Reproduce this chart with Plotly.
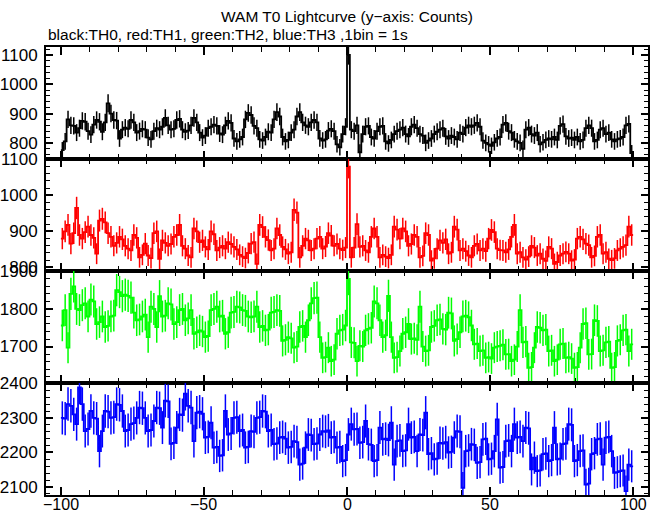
import numpy as np
import plotly.graph_objects as go
from plotly.subplots import make_subplots

# ---------------- data (counts per 1 s bin, bins from -100 s to +100 s) ----------------
BIN_START = -100
BIN_WIDTH = 1

th0 = [775, 805, 880, 860, 858, 835, 850, 875, 872, 840,
       828, 862, 878, 872, 838, 870, 935, 900, 878, 876,
       815, 845, 852, 848, 878, 870, 835, 840, 848, 845,
       818, 812, 840, 850, 845, 855, 885, 860, 845, 848,
       878, 882, 845, 838, 842, 860, 885, 870, 835, 818,
       825, 850, 855, 862, 858, 832, 828, 860, 875, 868,
       815, 805, 812, 820, 880, 902, 895, 858, 850, 812,
       808, 820, 838, 835, 880, 905, 890, 820, 805, 810,
       835, 845, 890, 905, 870, 860, 855, 870, 878, 870,
       815, 808, 812, 842, 848, 840, 795, 785, 830, 855,
       1100, 845, 840, 860, 768, 830, 855, 858, 820, 815,
       840, 855, 858, 805, 798, 810, 830, 840, 845, 852,
       830, 822, 855, 862, 850, 830, 825, 800, 808, 815,
       830, 838, 845, 850, 822, 815, 825, 820, 812, 835,
       830, 852, 860, 855, 860, 868, 855, 808, 800, 795,
       790, 802, 815, 820, 862, 868, 840, 835, 812, 805,
       800, 780, 845, 852, 830, 825, 835, 795, 802, 810,
       815, 812, 820, 810, 858, 864, 822, 815, 818, 810,
       820, 805, 810, 850, 860, 850, 805, 810, 845, 850,
       830, 835, 812, 805, 812, 815, 820, 860, 865, 765]

th1 = [880, 900, 918, 866, 895, 965, 890, 880, 898, 913,
       890, 882, 838, 930, 935, 925, 895, 885, 860, 868,
       885, 878, 860, 852, 847, 890, 882, 828, 835, 866,
       833, 826, 895, 900, 824, 875, 868, 860, 865, 885,
       890, 918, 860, 852, 833, 828, 908, 900, 870, 875,
       857, 850, 900, 892, 847, 855, 860, 852, 870, 865,
       857, 850, 835, 830, 826, 840, 866, 870, 810, 918,
       912, 885, 876, 847, 852, 908, 890, 857, 850, 838,
       842, 960, 952, 828, 860, 880, 875, 847, 852, 880,
       885, 852, 858, 895, 888, 860, 865, 852, 848, 855,
       1080, 828, 855, 920, 857, 860, 847, 842, 885, 908,
       885, 828, 835, 830, 826, 835, 913, 905, 880, 908,
       900, 860, 865, 890, 885, 828, 832, 895, 890, 819,
       825, 852, 875, 868, 878, 838, 842, 913, 905, 847,
       852, 845, 833, 828, 860, 865, 847, 852, 845, 880,
       904, 898, 852, 848, 847, 842, 850, 885, 918, 838,
       842, 828, 822, 830, 860, 855, 833, 838, 824, 818,
       857, 852, 810, 815, 833, 838, 843, 838, 819, 822,
       880, 885, 878, 866, 862, 828, 832, 885, 890, 838,
       842, 824, 820, 825, 847, 852, 857, 862, 913, 890]

th2 = [1756, 1797, 1697, 1840, 1860, 1800, 1797, 1810, 1815, 1780,
       1825, 1820, 1760, 1765, 1780, 1752, 1755, 1780, 1782, 1850,
       1845, 1834, 1838, 1835, 1830, 1790, 1770, 1772, 1780, 1785,
       1725, 1806, 1800, 1752, 1834, 1780, 1782, 1815, 1812, 1760,
       1765, 1797, 1800, 1770, 1775, 1797, 1734, 1738, 1743, 1740,
       1725, 1728, 1797, 1800, 1806, 1780, 1782, 1734, 1738, 1790,
       1792, 1806, 1804, 1797, 1795, 1780, 1778, 1780, 1806, 1752,
       1755, 1743, 1745, 1790, 1792, 1797, 1795, 1715, 1718, 1725,
       1722, 1697, 1700, 1752, 1755, 1725, 1770, 1815, 1829, 1830,
       1725, 1670, 1672, 1697, 1661, 1665, 1734, 1743, 1745, 1756,
       1880, 1711, 1710, 1661, 1702, 1700, 1743, 1747, 1750, 1820,
       1815, 1770, 1725, 1730, 1835, 1725, 1670, 1672, 1688, 1734,
       1738, 1760, 1720, 1722, 1718, 1806, 1700, 1688, 1690, 1752,
       1755, 1770, 1772, 1747, 1745, 1790, 1788, 1715, 1720, 1738,
       1780, 1782, 1778, 1756, 1706, 1708, 1688, 1690, 1670, 1672,
       1668, 1697, 1700, 1702, 1705, 1679, 1680, 1661, 1665, 1700,
       1797, 1711, 1713, 1643, 1645, 1697, 1752, 1750, 1743, 1745,
       1688, 1690, 1661, 1665, 1706, 1708, 1670, 1672, 1668, 1643,
       1645, 1697, 1760, 1762, 1679, 1680, 1770, 1768, 1688, 1690,
       1711, 1713, 1643, 1645, 1715, 1718, 1743, 1745, 1688, 1706]

th3 = [2300, 2298, 2340, 2335, 2310, 2282, 2388, 2340, 2262, 2268,
       2320, 2300, 2298, 2204, 2262, 2320, 2318, 2300, 2302, 2340,
       2338, 2320, 2262, 2265, 2282, 2285, 2300, 2330, 2328, 2300,
       2262, 2265, 2291, 2330, 2328, 2272, 2350, 2348, 2225, 2228,
       2272, 2310, 2308, 2370, 2335, 2330, 2233, 2315, 2318, 2312,
       2243, 2245, 2286, 2214, 2216, 2190, 2192, 2320, 2252, 2255,
       2300, 2302, 2262, 2265, 2214, 2216, 2262, 2260, 2300, 2302,
       2320, 2318, 2262, 2265, 2224, 2226, 2243, 2245, 2240, 2214,
       2216, 2233, 2230, 2165, 2168, 2214, 2252, 2250, 2224, 2226,
       2252, 2262, 2260, 2264, 2243, 2245, 2214, 2216, 2175, 2178,
       2252, 2282, 2267, 2268, 2228, 2230, 2291, 2224, 2222, 2175,
       2178, 2272, 2238, 2240, 2236, 2286, 2165, 2233, 2235, 2204,
       2206, 2282, 2243, 2245, 2204, 2252, 2250, 2315, 2195, 2198,
       2180, 2182, 2228, 2226, 2230, 2200, 2202, 2243, 2262, 2260,
       2098, 2204, 2206, 2224, 2222, 2170, 2172, 2238, 2240, 2180,
       2182, 2204, 2296, 2156, 2158, 2233, 2235, 2204, 2282, 2243,
       2245, 2233, 2272, 2270, 2151, 2185, 2146, 2148, 2195, 2197,
       2175, 2178, 2272, 2180, 2182, 2224, 2226, 2282, 2280, 2175,
       2178, 2204, 2206, 2107, 2110, 2195, 2198, 2238, 2240, 2165,
       2243, 2245, 2204, 2141, 2143, 2146, 2148, 2088, 2165, 2160]

series = [("TH0", th0, "#000000"), ("TH1", th1, "#ff0000"),
          ("TH2", th2, "#00ff00"), ("TH3", th3, "#0000ff")]

y_ranges = [[745, 1127], [790, 1101], [1603, 1901], [2077, 2401]]
x_tickvals = [-100, -50, 0, 50, 100]
x_ticktext = ["\u2212100", "\u221250", "0", "50", "100"]

title_text = "WAM T0 Lightcurve (y\u2212axis: Counts)"
subtitle_text = "black:TH0, red:TH1, green:TH2, blue:TH3 ,1bin = 1s"

# ---------------- figure ----------------
fig = make_subplots(rows=4, cols=1, shared_xaxes=True, vertical_spacing=0)

for i, (name, vals, col) in enumerate(series):
    vals = np.asarray(vals, dtype=float)
    n = len(vals)
    edges = BIN_START + BIN_WIDTH * np.arange(n + 1)
    centers = edges[:-1] + BIN_WIDTH / 2
    err = np.sqrt(vals)
    step_y = np.append(vals, vals[-1])
    fig.add_trace(go.Scatter(x=edges, y=step_y, mode="lines",
                             line=dict(color=col, width=1.8, shape="hv"),
                             showlegend=False, hoverinfo="skip"), row=i + 1, col=1)
    fig.add_trace(go.Scatter(x=centers, y=vals, mode="markers",
                             marker=dict(size=1, color=col),
                             error_y=dict(type="data", array=err, color=col,
                                          thickness=1.5, width=0),
                             showlegend=False, name=name), row=i + 1, col=1)

axis_common = dict(showline=True, linecolor="black", linewidth=2, mirror="ticks",
                   ticks="inside", tickcolor="black", showgrid=False, zeroline=False,
                   automargin=False)

for i in range(4):
    fig.update_yaxes(range=y_ranges[i], dtick=100, tick0=0, ticklen=7, tickwidth=2,
                     minor=dict(dtick=20, tick0=0, ticklen=4, tickwidth=1,
                                ticks="inside", tickcolor="black", showgrid=False),
                     ticklabelstandoff=3,
                     tickfont=dict(size=17, color="black", family="Liberation Sans"),
                     **axis_common, row=i + 1, col=1)
    fig.update_xaxes(range=[-105.2, 105.2], tickvals=x_tickvals, ticklen=8, tickwidth=2,
                     minor=dict(dtick=10, tick0=0, ticklen=5, tickwidth=1,
                                ticks="inside", tickcolor="black", showgrid=False),
                     showticklabels=False,
                     **axis_common, row=i + 1, col=1)

# bottom x tick labels placed as annotations (so they sit fully inside the window)
x_label_annots = [dict(text=t, x=v, y=-0.021, xref="x4", yref="paper",
                       xanchor="center", yanchor="middle", showarrow=False,
                       font=dict(size=16, color="black", family="Liberation Sans"))
                  for v, t in zip(x_tickvals, x_ticktext)]

fig.update_layout(
    width=662, height=515,
    margin=dict(l=46, r=14, t=47, b=20),
    paper_bgcolor="white", plot_bgcolor="white",
    font=dict(family="Liberation Sans", color="black"),
    showlegend=False,
    annotations=[
        dict(text=title_text, x=0.5, y=1.067, xref="paper", yref="paper",
             xanchor="center", yanchor="middle", showarrow=False,
             font=dict(size=15.5, color="black")),
        dict(text=subtitle_text, x=0.0, y=1.027, xref="paper", yref="paper",
             xanchor="left", yanchor="middle", showarrow=False,
             font=dict(size=15.5, color="black")),
    ] + x_label_annots,
)

# remove the default 8 px page margin so the figure sits at the window's top-left corner
fig.write_html("out.html",
               config={"displayModeBar": False},
               post_script="document.body.style.margin='0px';document.body.style.overflow='hidden';")
